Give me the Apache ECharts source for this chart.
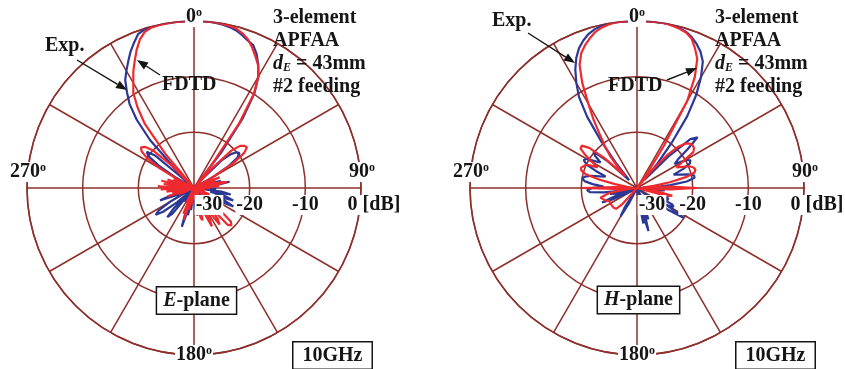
<!DOCTYPE html>
<html>
<head>
<meta charset="utf-8">
<script src="https://cdn.jsdelivr.net/npm/echarts@6/dist/echarts.min.js"></script>
<style>
html,body{margin:0;padding:0;background:#fff;}
#c{width:845px;height:369px;}
</style>
</head>
<body>
<div id="c"></div>
<script>
// ---- data (angle in degrees, 0 = top, clockwise; level in dB) ----
const angles = [
-180,-177.5,-175,-172.5,-170,-167.5,-165,-162.5,-160,-157.5,-155,-152.5,
-150,-147.5,-145,-142.5,-140,-137.5,-135,-132.5,-130,-127.5,-125,-122.5,
-120,-117.5,-115,-112.5,-110,-107.5,-105,-102.5,-100,-97.5,-95,-92.5,
-90,-87.5,-85,-82.5,-80,-77.5,-75,-72.5,-70,-67.5,-65,-62.5,
-60,-57.5,-55,-52.5,-50,-47.5,-45,-42.5,-40,-37.5,-35,-32.5,
-30,-27.5,-25,-22.5,-20,-17.5,-15,-12.5,-10,-7.5,-5,-2.5,
0,2.5,5,7.5,10,12.5,15,17.5,20,22.5,25,27.5,
30,32.5,35,37.5,40,42.5,45,47.5,50,52.5,55,57.5,
60,62.5,65,67.5,70,72.5,75,77.5,80,82.5,85,87.5,
90,92.5,95,97.5,100,102.5,105,107.5,110,112.5,115,117.5,
120,122.5,125,127.5,130,132.5,135,137.5,140,142.5,145,147.5,
150,152.5,155,157.5,160,162.5,165,167.5,170,172.5,175,177.5
];

// E-plane, FDTD (red)
const eFdtd = [
-30,-28,-30,-27, -30,-26,-29,-24, -30,-25,-30,-27,
-30,-30,-30,-30, -30,-30,-30,-30, -30,-30,-30,-30,
-30,-30,-30,-27, -30,-25,-30,-26, -30,-25,-30,-24,
-27,-23.5,-30,-24.5, -28,-24,-30,-25, -29,-26,-30,-27,
-23,-20,-18.5,-18, -18.5,-20,-24,-30, -22,-15.5,-12.3,-9.7,
-8.2,-6.4,-4.8,-3.1, -1.6,-0.6,-0.2,-0.1, -0.05,0,0,0,
0,0,0,0, -0.1,-0.2,-0.4,-0.9, -1.6,-2.7,-3.9,-5.1,
-6.8,-10,-16,-25, -30,-25,-20.5,-18.8, -18.2,-18,-19,-21.5,
-26,-30,-28,-25, -30,-26,-30,-25, -24,-28,-25.5,-30,
-27,-30,-28,-30, -30,-30,-30,-28, -30,-27,-30,-26,
-30,-28,-30,-27, -24,-21,-20.5,-21, -26,-23,-22,-25,
-30,-24,-22.4,-25, -30,-27,-24,-24.5, -29,-30,-28,-30
];
// E-plane, measured (blue)
const eExp = [
-30,-28,-30,-26, -30,-25,-26,-22.7, -26,-30,-27,-30,
-28,-30,-27,-30, -24,-22.9,-25,-30, -26,-23,-21.6,-22.5,
-25,-28,-30,-27, -23.5,-26,-30,-28, -30,-27,-30,-28,
-30,-27,-30,-26, -29,-27,-30,-28, -30,-27,-30,-30,
-26,-22.5,-20,-19.3, -21,-29,-26,-18.3, -14,-11,-9,-7,
-5.7,-4.4,-3,-1.8, -0.6,-0.2,-0.1,0, 0,0,0,0,
0,0,0,-0.1, -0.2,-0.4,-0.7,-1.2, -1.8,-2.2,-3.4,-5,
-6.9,-9.8,-14.8,-22, -30,-28,-23,-21, -20,-19.7,-20.5,-22.5,
-26,-30,-27,-30, -26,-29,-25,-28, -23.5,-26,-30,-27,
-30,-26,-30,-25, -23.3,-27,-24,-22.6, -26,-24,-22.2,-25,
-30,-28,-30,-30, -28,-30,-30,-30, -28,-30,-30,-30,
-29,-30,-30,-30, -28,-30,-30,-30, -27,-25,-24.8,-27
];
// H-plane, FDTD (red)
const hFdtd = [
-30,-30,-30,-30, -30,-30,-30,-30, -30,-30,-30,-30,
-30,-30,-30,-30, -30,-26,-24.7,-24.5, -24.5,-24.5,-24.5,-24.5,
-24.5,-24.5,-24.5,-24, -24,-23.5,-23.2,-23.5, -25,-28,-30,-26,
-20.2,-26,-29,-28, -26,-23,-20.5,-19.5, -19.3,-19.5,-20,-22,
-22,-19,-17.6,-17.5, -18.8,-22,-27,-25, -22.5,-20.5,-18.5,-15.5,
-12.5,-8.7,-5.6,-3.8, -2.7,-1.8,-1,-0.5, -0.2,0,0,0,
0,0,0,0, 0,-0.2,-0.4,-0.7, -1.4,-2.8,-4.4,-7.5,
-12,-21,-26.5,-30, -26,-22,-19.5,-18.2, -17.6,-17.4,-17.5,-18,
-20.5,-22,-21,-19.8, -19.2,-19,-19.3,-21, -24,-27,-29,-24,
-19.2,-24,-28,-30, -26,-23.5,-25,-30, -30,-30,-30,-30,
-30,-30,-30,-30, -30,-30,-30,-30, -30,-30,-30,-30,
-30,-30,-30,-30, -30,-30,-30,-30, -30,-30,-30,-30
];
// H-plane, measured (blue)
const hExp = [
-30,-30,-30,-30, -30,-30,-30,-30, -30,-30,-30,-27,
-24.1,-26,-30,-30, -30,-30,-30,-30, -30,-30,-30,-30,
-30,-28,-25,-23.2, -26,-30,-26,-25, -27,-24,-21.5,-21,
-22,-24,-22,-20.5, -20,-20.5,-21.5,-23, -24,-22,-20,-19.2,
-19.5,-21,-22,-20.5, -19.8,-23,-28,-27, -24,-19.5,-14.4,-10.6,
-8.2,-6,-4.2,-2.8, -1.8,-1,-0.5,-0.2, 0,0,0,0,
0,0,0,0, 0,-0.1,-0.3,-0.6, -1.2,-2,-3,-4.4,
-7,-10.2,-14.3,-19.8, -24.5,-28,-22,-17, -15.8,-18.5,-21,-22,
-20,-19.2,-19.5,-21, -23,-22,-20.5,-19.5, -19.5,-21,-24,-27,
-30,-28,-25,-27, -30,-27,-24,-26, -23.9,-26,-23,-22.6,
-24,-20,-23,-28, -30,-30,-30,-30, -30,-30,-30,-30,
-30,-30,-30,-27, -24,-26,-22,-25, -23.5,-28,-30,-30
];

const radiusTicks = [-30, -20, -10, 0];
const angleLabels = [0, 90, 180, 270];

// ---- styles ----
const GRID = '#8e2f2a';
const BLUE = '#2b3896';
const RED  = '#ee2a2e';
const INK  = '#151515';
const FONT = '"Liberation Serif","Times New Roman",serif';
const R_MIN = -30, R_MAX = 0;

function toAxis(a){ return ((a - 90) % 360 + 360) % 360 + 90; }
function series(vals, color, polarIndex){
  const d = angles.map((a, i) => [Math.max(vals[i], R_MIN), toAxis(a)]);
  d.push(d[0]);
  return {type:'line', coordinateSystem:'polar', polarIndex, data:d,
    showSymbol:false, symbol:'none', smooth:false, silent:true, z:3,
    lineStyle:{color, width:2.2}};
}

const txt = {fontFamily:FONT, fontWeight:'bold', fontSize:20, color:INK};
const angRich = {
  t:Object.assign({}, txt, {lineHeight:20, backgroundColor:'#fff', padding:[0,0,0,1]}),
  o:Object.assign({}, txt, {fontSize:12, lineHeight:12, backgroundColor:'#fff', padding:[0,1,8,0]}),
  g14:{width:1, height:14}, g10:{width:1, height:10}, g32:{width:1, height:32},
  hs:{width:7, height:1}
};
function angFormatter(v){
  if (v >= 450) return '';
  const d = v % 360;
  if (!angleLabels.includes(d)) return '';
  if (d === 0) return '{t|0}{o|o}\n{g14|}';
  if (d === 90) return '{hs|}{t|90}{o|o}\n{g32|}';
  if (d === 180) return '{g10|}\n{t|180}{o|o}';
  return '{t|270}{o|o}\n{g32|}';
}
const radRich = {
  v:Object.assign({}, txt, {lineHeight:20, backgroundColor:'#fff', padding:[0,1]}),
  gA:{width:30, height:1}, gB:{width:26, height:1}
};
function radFormatter(v){
  if (!radiusTicks.includes(v)) return '';
  if (v === -30) return '{gA|}{v|-30}';
  if (v === 0) return '{gB|}{v|0 [dB]}';
  return '{v|' + v + '}';
}

const centers = [[194,188],[637,188]];
const polar = [], angleAxis = [], radiusAxis = [];
centers.forEach((c) => {
  // grid polar
  polar.push({center:c, radius:167});
  angleAxis.push({polarIndex:polar.length-1, type:'value', min:90, max:450, interval:30,
    startAngle:0, clockwise:true, z:1,
    axisLine:{lineStyle:{color:GRID, width:1.5}}, axisTick:{show:false},
    axisLabel:{show:false}, splitLine:{lineStyle:{color:GRID, width:1.5}}});
  radiusAxis.push({polarIndex:polar.length-1, type:'value', min:R_MIN, max:R_MAX, interval:10, z:1,
    axisLine:{show:false}, axisTick:{show:false}, axisLabel:{show:false},
    splitLine:{lineStyle:{color:GRID, width:1.5}}});
  // label polar (on top)
  polar.push({center:c, radius:167});
  angleAxis.push({polarIndex:polar.length-1, type:'value', min:90, max:450, interval:30,
    startAngle:0, clockwise:true, z:10,
    axisLine:{show:false}, axisTick:{show:false}, splitLine:{show:false},
    axisLabel:{margin:-20, formatter:angFormatter, rich:angRich}});
  radiusAxis.push({polarIndex:polar.length-1, type:'value', min:R_MIN, max:R_MAX, interval:10, z:10,
    axisLine:{show:false}, axisTick:{show:false}, splitLine:{show:false},
    axisLabel:{showMinLabel:true, showMaxLabel:true, margin:-27, formatter:radFormatter, rich:radRich}});
});

function arrow(x1,y1,x2,y2){
  const L = 11, W = 4.2;
  const dx = x2-x1, dy = y2-y1, len = Math.hypot(dx,dy);
  const ux = dx/len, uy = dy/len;
  const bx = x2 - ux*L, by = y2 - uy*L;
  return [
    {type:'line', shape:{x1, y1, x2:bx, y2:by}, style:{stroke:INK, lineWidth:1.4}, z:20},
    {type:'polygon', shape:{points:[[x2,y2],[bx - uy*W, by + ux*W],[bx + uy*W, by - ux*W]]},
     style:{fill:INK}, z:20}
  ];
}
function label(text, x, y, extra){
  return Object.assign({type:'text', x, y, z:20, style:Object.assign({text,
    fontFamily:FONT, fontWeight:'bold', fontSize:20, fill:INK}, extra||{})});
}
const blockRich = {
  b:{fontFamily:FONT, fontWeight:'bold', fontSize:20, lineHeight:23, fill:INK, color:INK},
  i:{fontFamily:FONT, fontWeight:'bold', fontStyle:'italic', fontSize:20, lineHeight:23, fill:INK, color:INK},
  s:{fontFamily:FONT, fontWeight:'bold', fontStyle:'italic', fontSize:12, lineHeight:23, padding:[9,0,0,0], fill:INK, color:INK}
};
const blockText = '{b|3-element}\n{b|APFAA}\n{i|d}{s|E}{b| = 43mm}\n{b|#2 feeding}';
const boxRich = {
  i:{fontFamily:FONT, fontWeight:'bold', fontStyle:'italic', fontSize:20, fill:INK, color:INK},
  b:{fontFamily:FONT, fontWeight:'bold', fontSize:20, fill:INK, color:INK}
};
function box(text, x, y, padX){
  return {type:'text', x, y, z:20, style:{text, rich:boxRich, fontFamily:FONT, fontWeight:'bold', fontSize:20,
    fill:INK, align:'center', verticalAlign:'middle', lineHeight:22, padding:[2,padX],
    backgroundColor:'#fff', borderColor:INK, borderWidth:1.5}};
}

const graphic = [
  // left
  {type:'text', x:273, y:6, z:20, style:{text:blockText, rich:blockRich, fill:INK}},
  label('Exp.', 45, 36),
  label('FDTD', 162, 75),
  ...arrow(77,60,127,90),
  ...arrow(160,75,137,60),
  box('{i|E}{b|-plane}', 196.5, 300.5, 6),
  box('{b|10GHz}', 332.5, 355.5, 9),
  // right
  {type:'text', x:715, y:6, z:20, style:{text:blockText, rich:blockRich, fill:INK}},
  label('Exp.', 492, 11),
  label('FDTD', 608, 76),
  ...arrow(528,33,575,63),
  ...arrow(667,80,697,68),
  box('{i|H}{b|-plane}', 638.5, 300, 6),
  box('{b|10GHz}', 775.5, 355.5, 9)
];

const chart = echarts.init(document.getElementById('c'), null, {renderer:'canvas'});
chart.setOption({
  animation:false,
  backgroundColor:'#fff',
  polar, angleAxis, radiusAxis,
  series:[
    series(eExp, BLUE, 0), series(eFdtd, RED, 0),
    series(hExp, BLUE, 2), series(hFdtd, RED, 2)
  ],
  graphic
});
</script>
</body>
</html>
